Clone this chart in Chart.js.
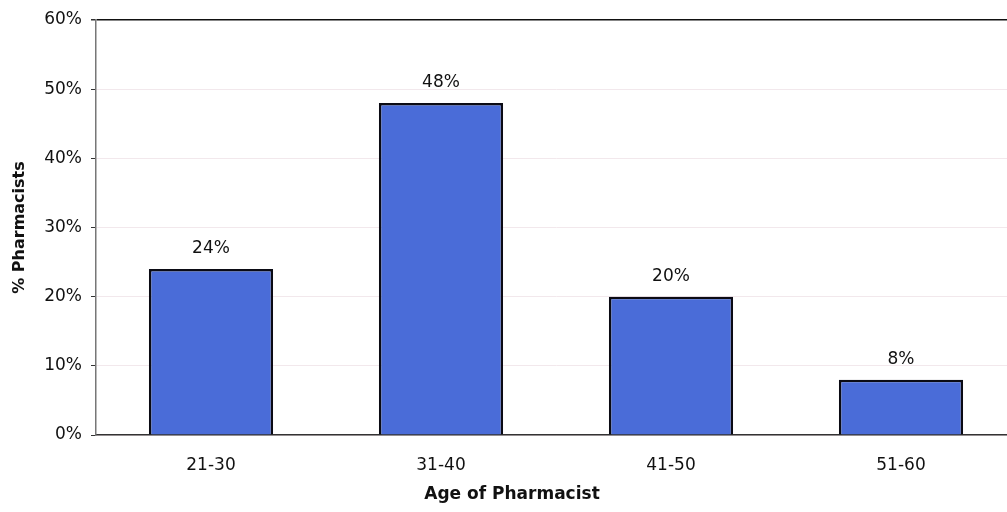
<!DOCTYPE html>
<html>
<head>
<meta charset="utf-8">
<script src="https://cdn.jsdelivr.net/npm/chart.js@4/dist/chart.umd.min.js"></script>
<style>
  html, body { margin: 0; padding: 0; background: #fff; overflow: hidden; }
  #wrap { width: 1024px; height: 512px; }
</style>
</head>
<body>
<div id="wrap"><canvas id="c" width="1024" height="512"></canvas></div>
<script>
const ageGroups = ['21-30', '31-40', '41-50', '51-60'];
const pharmacistShare = [24, 48, 20, 8];
const yTicks = [0, 10, 20, 30, 40, 50, 60];
const xTitle = 'Age of Pharmacist';
const yTitle = '% Pharmacists';

const FONT = '"DejaVu Sans", "Liberation Sans", Arial, sans-serif';

// Writes the percentage above each bar, and the x-axis title centred on the canvas
const annotations = {
  id: 'annotations',
  afterDatasetsDraw(chart) {
    const ctx = chart.ctx;
    const meta = chart.getDatasetMeta(0);
    ctx.save();
    ctx.font = '17px ' + FONT;
    ctx.fillStyle = '#111';
    ctx.textAlign = 'center';
    ctx.textBaseline = 'alphabetic';
    meta.data.forEach((bar, i) => {
      ctx.fillText(pharmacistShare[i] + '%', bar.x, bar.y - 16);
    });
    ctx.font = 'bold 17px ' + FONT;
    ctx.textBaseline = 'middle';
    ctx.fillText(xTitle, chart.width / 2, chart.height - 17);
    ctx.restore();
  }
};

new Chart(document.getElementById('c'), {
  type: 'bar',
  data: {
    labels: ageGroups,
    datasets: [{
      data: pharmacistShare,
      backgroundColor: '#4a6cd8',
      borderColor: '#0b0b14',
      borderWidth: 2.5,
      barPercentage: 0.54,
      categoryPercentage: 1.0
    }]
  },
  options: {
    responsive: false,
    animation: false,
    layout: { padding: { top: 20, right: 8, left: 0, bottom: 0 } },
    plugins: { legend: { display: false }, tooltip: { enabled: false } },
    scales: {
      x: {
        afterFit(scale) { scale.height = 77; },
        grid: { display: false, drawTicks: false },
        border: { display: true, color: '#333', width: 1.5 },
        ticks: { color: '#111', font: { family: FONT, size: 17 }, padding: 20 }
      },
      y: {
        min: 0, max: 60,
        afterFit(scale) { scale.width = 96; },
        afterBuildTicks(scale) { scale.ticks = yTicks.map(v => ({ value: v })); },
        grid: {
          color: ctx => ctx.tick && ctx.tick.value === 60 ? '#111' : '#f2e8ec',
          tickColor: '#333',
          tickLength: 5,
          lineWidth: ctx => ctx.tick && ctx.tick.value === 60 ? 1.5 : 1
        },
        border: { display: true, color: '#777', width: 1.5 },
        ticks: {
          color: '#111', font: { family: FONT, size: 17 }, padding: 9,
          callback: v => v + '%'
        },
        title: {
          display: true, text: yTitle, color: '#111',
          font: { family: FONT, size: 16, weight: 'bold' }, padding: { top: 10, bottom: 0 }
        }
      }
    }
  },
  plugins: [annotations]
});
</script>
</body>
</html>
